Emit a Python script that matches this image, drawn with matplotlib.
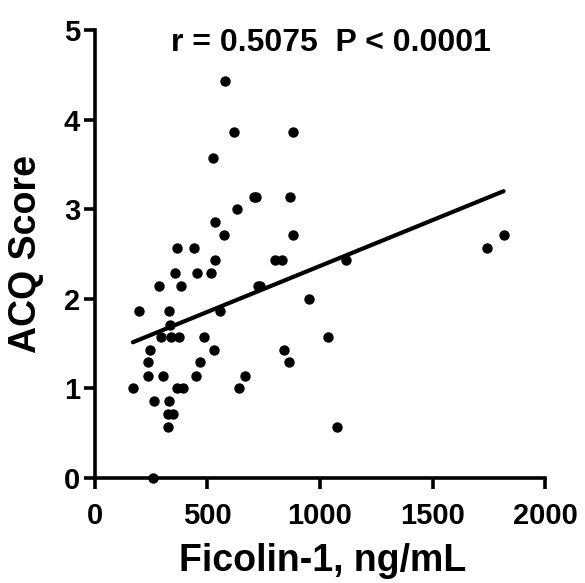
import matplotlib
matplotlib.use("Agg")
import numpy as np
import matplotlib.pyplot as plt

plt.rcParams['font.family'] = ['Liberation Sans', 'DejaVu Sans']
plt.rcParams['font.weight'] = 'bold'

# Ficolin-1 (ng/mL) vs ACQ score
ficolin = [578, 620, 880, 527, 705, 718, 868, 633, 535, 572, 880, 366, 440,
           535, 800, 830, 356, 452, 514, 283, 385, 725, 735, 950, 197, 329,
           558, 333, 293, 338, 373, 483, 1034, 246, 530, 840, 237, 467, 861,
           236, 301, 449, 668, 169, 366, 392, 639, 265, 330, 323, 348, 326,
           1074, 258, 1740, 1815, 1115]
acq = [4.43, 3.86, 3.86, 3.57, 3.14, 3.14, 3.14, 3.0, 2.86, 2.71, 2.71, 2.57,
       2.57, 2.43, 2.43, 2.43, 2.29, 2.29, 2.29, 2.14, 2.14, 2.14, 2.14, 2.0,
       1.86, 1.86, 1.86, 1.71, 1.57, 1.57, 1.57, 1.57, 1.57, 1.43, 1.43, 1.43,
       1.29, 1.29, 1.29, 1.14, 1.14, 1.14, 1.14, 1.0, 1.0, 1.0, 1.0, 0.86,
       0.86, 0.71, 0.71, 0.57, 0.57, 0.0, 2.57, 2.71, 2.43]
stats_text = "r = 0.5075  P < 0.0001"

x = np.array(ficolin, dtype=float)
y = np.array(acq, dtype=float)

fig = plt.figure(figsize=(5.85, 5.83), dpi=100)
ax = fig.add_axes([0.162, 0.180, 0.770, 0.7685])

ax.scatter(x, y, s=42, color='black', zorder=3, clip_on=False)

# linear regression line over the data range
slope, intercept = np.polyfit(x, y, 1)
xs = np.array([x.min(), x.max()])
ax.plot(xs, slope * xs + intercept, color='black', lw=3, solid_capstyle='round')

ax.set_xlim(0, 2000)
ax.set_ylim(0, 5)
ax.set_xticks([0, 500, 1000, 1500, 2000])
ax.set_yticks([0, 1, 2, 3, 4, 5])

for s in ['top', 'right']:
    ax.spines[s].set_visible(False)
for s in ['left', 'bottom']:
    ax.spines[s].set_linewidth(2.6)
ax.tick_params(width=2.6, length=8, labelsize=21)
ax.tick_params(axis='x', pad=9)
ax.tick_params(axis='y', pad=2.5)
for lbl in ax.get_xticklabels() + ax.get_yticklabels():
    lbl.set_fontweight('bold')

ax.set_xlabel("Ficolin-1, ng/mL", fontsize=27, fontweight='bold')
ax.set_ylabel("ACQ Score", fontsize=27, fontweight='bold')
ax.xaxis.set_label_coords(0.505, -0.145)
ax.yaxis.set_label_coords(-0.113, 0.5)

fig.text(331 / 585, 1 - 43 / 583, stats_text, fontsize=23, fontweight='bold',
         ha='center', va='center')

fig.savefig('out.png', dpi=100)
